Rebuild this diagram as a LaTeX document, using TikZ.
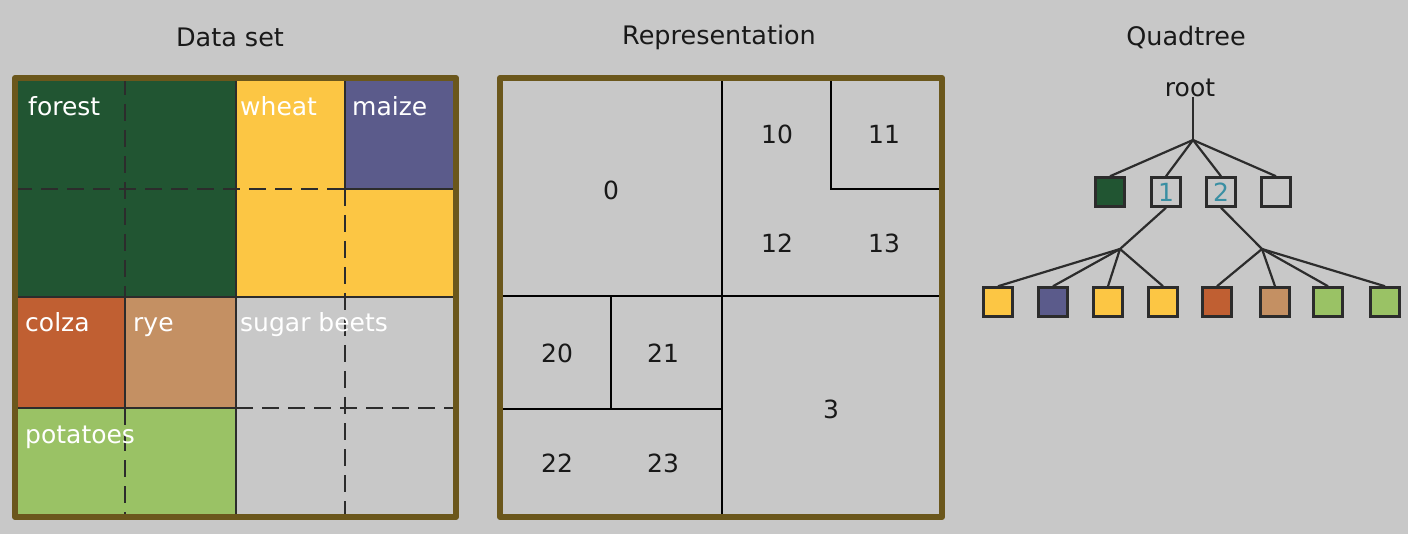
\documentclass[tikz,border=0pt]{standalone}
\usepackage{fontspec}
\setmainfont{DejaVu Sans}
\definecolor{bgc}{HTML}{C8C8C8}
\definecolor{forestc}{HTML}{215532}
\definecolor{wheatc}{HTML}{FCC644}
\definecolor{maizec}{HTML}{5B5B8B}
\definecolor{colzac}{HTML}{C05F32}
\definecolor{ryec}{HTML}{C49063}
\definecolor{potatoc}{HTML}{9AC265}
\definecolor{framec}{HTML}{6B571C}
\definecolor{gridc}{HTML}{2C2C2C}
\definecolor{tealc}{HTML}{3A8FA3}
\tikzset{
  title/.style={font=\fontsize{25.5}{30}\selectfont, text=black!90, inner sep=0pt},
  lbl/.style={font=\fontsize{25}{30}\selectfont, text=white, inner sep=0pt, anchor=base west},
  num/.style={font=\fontsize{25}{30}\selectfont, text=black!90, inner sep=0pt},
  solidgrid/.style={draw=gridc, line width=2.6pt},
  dashgrid/.style={draw=gridc, line width=2.6pt, dash pattern=on 17pt off 9pt},
  repline/.style={draw=black, line width=2pt},
  outerframe/.style={draw=framec, line width=6pt, line join=round},
  tbox/.style={draw=gridc, line width=2.5pt, minimum size=29pt, inner sep=0pt, fill=bgc,
     font=\fontsize{25}{30}\selectfont, text=tealc},
  tline/.style={draw=gridc, line width=2.2pt}
}
\begin{document}
\begin{tikzpicture}[x=1pt,y=-1pt]
\useasboundingbox[fill=bgc] (0,0) rectangle (1408,534);
% titles
\node[title] (t1) at (230,37) {Data set};
\node[title] (t2) at (719,37) {Representation};
\node[title] (t3) at (1186,37) {Quadtree};
% ---- Data set ----
\fill[forestc] (15,78) rectangle (236,297);
\fill[wheatc] (236,78) rectangle (345,189);
\fill[wheatc] (236,189) rectangle (456,297);
\fill[maizec] (345,78) rectangle (456,189);
\fill[colzac] (15,297) rectangle (125,408);
\fill[ryec] (125,297) rectangle (236,408);
\fill[potatoc] (15,408) rectangle (236,517);
\fill[bgc] (236,297) rectangle (456,517);
% dashed lines
\draw[dashgrid] (125,78) -- (125,297);
\draw[dashgrid] (15,189) -- (345,189);
\draw[dashgrid] (345,189) -- (345,517);
\draw[dashgrid] (236,408) -- (456,408);
\draw[dashgrid] (125,408) -- (125,517);
% solid lines
\draw[solidgrid] (236,78) -- (236,517);
\draw[solidgrid] (345,78) -- (345,189) -- (456,189);
\draw[solidgrid] (15,297) -- (456,297);
\draw[solidgrid] (125,297) -- (125,408);
\draw[solidgrid] (15,408) -- (236,408);
\draw[outerframe] (15,78) rectangle (456,517);
% labels
\node[lbl] (lforest) at (28,116) {forest};
\node[lbl] (lwheat) at (240,116) {wheat};
\node[lbl] (lmaize) at (352,116) {maize};
\node[lbl] (lcolza) at (25,332) {colza};
\node[lbl] (lrye) at (133,332) {rye};
\node[lbl] (lsugar) at (240,332) {sugar beets};
\node[lbl] (lpotato) at (25,443) {potatoes};
% ---- Representation ----
\draw[repline] (722,78) -- (722,517);
\draw[repline] (500,296) -- (942,296);
\draw[repline] (831,78) -- (831,189) -- (942,189);
\draw[repline] (611,296) -- (611,409);
\draw[repline] (500,409) -- (722,409);
\draw[outerframe] (500,78) rectangle (942,517);
\node[num] (r0) at (611,190) {0};
\node[num] (r10) at (777,134) {10};
\node[num] (r11) at (884,134) {11};
\node[num] (r12) at (777,243) {12};
\node[num] (r13) at (884,243) {13};
\node[num] (r20) at (557,353) {20};
\node[num] (r21) at (663,353) {21};
\node[num] (r22) at (557,463) {22};
\node[num] (r23) at (663,463) {23};
\node[num] (r3) at (831,409) {3};
% ---- Quadtree ----
\node[num] (root) at (1190,88) {root};
\coordinate (j0) at (1193,140);
\coordinate (j1) at (1120,249);
\coordinate (j2) at (1262,249);
\node[tbox, fill=forestc] (q0) at (1110,192) {};
\node[tbox] (q1) at (1166,192) {1};
\node[tbox] (q2) at (1221,192) {2};
\node[tbox] (q3) at (1276,192) {};
\node[tbox, fill=wheatc] (l1) at (998,302) {};
\node[tbox, fill=maizec] (l2) at (1053,302) {};
\node[tbox, fill=wheatc] (l3) at (1108,302) {};
\node[tbox, fill=wheatc] (l4) at (1163,302) {};
\node[tbox, fill=colzac] (l5) at (1217,302) {};
\node[tbox, fill=ryec] (l6) at (1275,302) {};
\node[tbox, fill=potatoc] (l7) at (1328,302) {};
\node[tbox, fill=potatoc] (l8) at (1385,302) {};
\draw[tline] (j0 |- root.south) -- (j0);
\draw[tline] (j0) -- (q0.north);
\draw[tline] (j0) -- (q1.north);
\draw[tline] (j0) -- (q2.north);
\draw[tline] (j0) -- (q3.north);
\draw[tline] (q1.south) -- (j1);
\draw[tline] (q2.south) -- (j2);
\draw[tline] (j1) -- (l1.north);
\draw[tline] (j1) -- (l2.north);
\draw[tline] (j1) -- (l3.north);
\draw[tline] (j1) -- (l4.north);
\draw[tline] (j2) -- (l5.north);
\draw[tline] (j2) -- (l6.north);
\draw[tline] (j2) -- (l7.north);
\draw[tline] (j2) -- (l8.north);
\end{tikzpicture}
\end{document}
